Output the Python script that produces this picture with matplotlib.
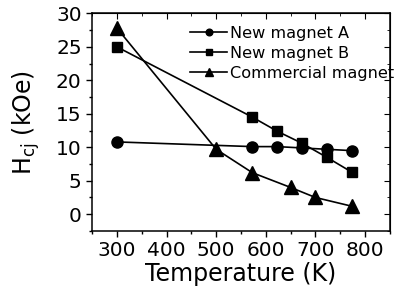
import matplotlib
matplotlib.use("Agg")
import matplotlib.pyplot as plt
from matplotlib.ticker import MultipleLocator

plt.rcParams['font.family'] = ['DejaVu Sans']
plt.rcParams['mathtext.fontset'] = 'dejavusans'

temp_a = [300, 573, 623, 673, 723, 773]
hcj_a = [10.8, 10.1, 10.1, 9.9, 9.7, 9.5]
temp_b = [300, 573, 623, 673, 723, 773]
hcj_b = [25.0, 14.5, 12.4, 10.6, 8.5, 6.3]
temp_c = [300, 500, 573, 650, 700, 773]
hcj_c = [27.8, 9.7, 6.2, 4.0, 2.5, 1.2]
labels = ["New magnet A", "New magnet B", "Commercial magnet"]

fig = plt.figure(figsize=(3.97, 2.98), dpi=100)
ax = fig.add_axes([0.232, 0.225, 0.750, 0.730])

lw = 1.2
ax.plot(temp_a, hcj_a, color='black', lw=lw, marker='o', ms=8, label=labels[0])
ax.plot(temp_b, hcj_b, color='black', lw=lw, marker='s', ms=7.5, label=labels[1])
ax.plot(temp_c, hcj_c, color='black', lw=lw, marker='^', ms=9.5, label=labels[2])

ax.set_xlim(250, 850)
ax.set_ylim(-2.5, 30)
ax.set_xticks([300, 400, 500, 600, 700, 800])
ax.set_yticks([0, 5, 10, 15, 20, 25, 30])
ax.xaxis.set_minor_locator(MultipleLocator(50))
ax.yaxis.set_minor_locator(MultipleLocator(2.5))
ax.tick_params(which='both', direction='out', labelsize=14.5, width=1, top=False, right=False)
ax.tick_params(which='major', length=4)
ax.tick_params(which='minor', length=2.5)
for s in ax.spines.values():
    s.set_linewidth(1.1)

secx = ax.secondary_xaxis('top')
secx.set_xticks([300, 400, 500, 600, 700, 800])
secx.xaxis.set_minor_locator(MultipleLocator(50))
secx.tick_params(which='both', direction='in', labeltop=False)
secx.tick_params(which='major', length=4)
secx.tick_params(which='minor', length=2.5)
secy = ax.secondary_yaxis('right')
secy.set_yticks([0, 5, 10, 15, 20, 25, 30])
secy.yaxis.set_minor_locator(MultipleLocator(2.5))
secy.tick_params(which='both', direction='in', labelright=False)
secy.tick_params(which='major', length=4)
secy.tick_params(which='minor', length=2.5)

ax.set_xlabel("Temperature (K)", fontsize=17, labelpad=1)
ax.set_ylabel(r"H$_{\mathrm{cj}}$ (kOe)", fontsize=17, labelpad=10)

leg = fig.legend(loc='upper left', bbox_to_anchor=(0.479, 0.913), frameon=False,
                 fontsize=11.6, handlelength=2.3, handletextpad=0.15, labelspacing=0.3,
                 borderpad=0, borderaxespad=0, markerscale=0.6)

fig.savefig("out.png", dpi=100)
